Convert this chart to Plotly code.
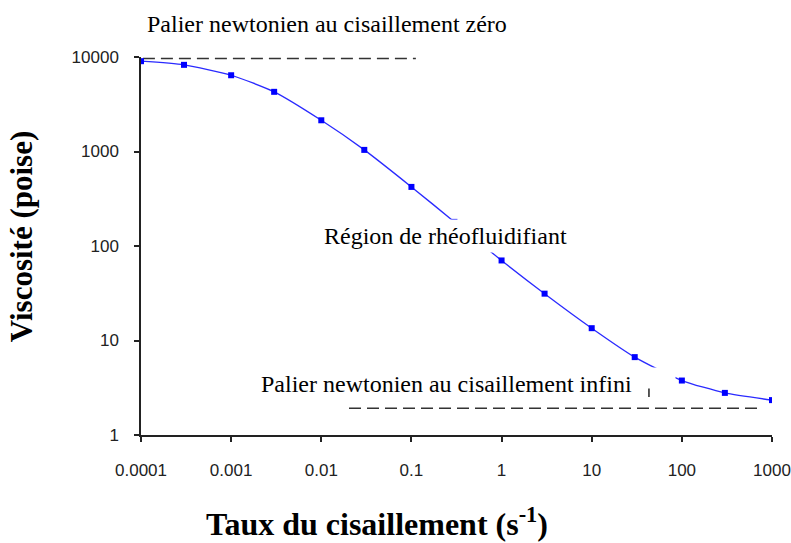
import plotly.graph_objects as go

# Data
shear_rate = [0.0001, 0.0003, 0.001, 0.003, 0.01, 0.03, 0.1, 0.3, 1, 3, 10, 30, 100, 300, 1000]
viscosity = [9030, 8260, 6410, 4280, 2140, 1040, 422, 180, 70.3, 31.3, 13.5, 6.67, 3.77, 2.79, 2.34]

zero_plateau_x = [0.000105, 0.112]
zero_plateau_y = [9650, 9650]
inf_plateau_x = [0.0203, 775]
inf_plateau_y = [1.92, 1.92]

x_tickvals = [0.0001, 0.001, 0.01, 0.1, 1, 10, 100, 1000]
x_ticktext = ["0.0001", "0.001", "0.01", "0.1", "1", "10", "100", "1000"]
y_tickvals = [1, 10, 100, 1000, 10000]
y_ticktext = ["1", "10", "100", "1000", "10000"]

SERIF = "Liberation Serif, Times New Roman, serif"
SANS = "Liberation Sans, Arial, sans-serif"

fig = go.Figure()
fig.add_trace(go.Scatter(x=zero_plateau_x, y=zero_plateau_y, mode="lines",
                         line=dict(color="#333333", width=1.5, dash="12px,6px"),
                         hoverinfo="skip", showlegend=False))
fig.add_trace(go.Scatter(x=inf_plateau_x, y=inf_plateau_y, mode="lines",
                         line=dict(color="#333333", width=1.5, dash="12px,6px"),
                         hoverinfo="skip", showlegend=False))
fig.add_trace(go.Scatter(x=shear_rate, y=viscosity, mode="lines+markers",
                         line=dict(color="#2a2aff", width=1.3, shape="spline", smoothing=0.6),
                         marker=dict(symbol="square", size=6, color="#0000ff"),
                         showlegend=False))

fig.update_layout(
    width=791, height=543,
    margin=dict(l=141, r=19, t=57, b=108),
    paper_bgcolor="white", plot_bgcolor="white",
    xaxis=dict(type="log", range=[-4, 3], tickvals=x_tickvals, ticktext=x_ticktext,
               showgrid=False, zeroline=False, showline=True, linecolor="#222222", linewidth=1.5,
               ticks="outside", ticklen=5, tickwidth=1.5, tickcolor="#222222", automargin=False,
               tickfont=dict(family=SANS, size=17, color="#222222"), ticklabelstandoff=14),
    yaxis=dict(type="log", range=[0, 4], tickvals=y_tickvals, ticktext=y_ticktext,
               showgrid=False, zeroline=False, showline=True, linecolor="#222222", linewidth=1.5,
               ticks="outside", ticklen=5, tickwidth=1.5, tickcolor="#222222", automargin=False,
               tickfont=dict(family=SANS, size=17, color="#222222"), ticklabelstandoff=12),
)

annotations = [
    dict(text="<b>Viscosité (poise)</b>", xref="paper", yref="paper", x=-0.19, y=0.526,
         textangle=-90, showarrow=False, xanchor="center", yanchor="middle",
         font=dict(family=SERIF, size=31, color="black")),
    dict(text="<b>Taux du cisaillement (s<sup>-1</sup>)</b>", xref="paper", yref="paper",
         x=0.3748, y=-0.229, showarrow=False, xanchor="center", yanchor="middle",
         font=dict(family=SERIF, size=32, color="black")),
    dict(text="Palier newtonien au cisaillement zéro", xref="paper", yref="paper",
         x=0.006, y=1.086, showarrow=False, xanchor="left", yanchor="middle",
         font=dict(family=SERIF, size=24, color="black")),
    dict(text="Région de rhéofluidifiant", xref="paper", yref="paper",
         x=0.2837, y=0.5258, showarrow=False, xanchor="left", yanchor="middle",
         bgcolor="white", borderpad=3,
         font=dict(family=SERIF, size=24, color="black")),
    dict(text="Palier newtonien au cisaillement infini", xref="paper", yref="paper",
         x=0.1838, y=0.1351, showarrow=False, xanchor="left", yanchor="middle",
         bgcolor="white", borderpad=3, width=411, align="left",
         font=dict(family=SERIF, size=24, color="black")),
    # small stray vertical stroke visible inside the text box
    dict(text="", xref="paper", yref="paper", x=0.805, y=0.1007,
         showarrow=True, arrowhead=0, arrowwidth=1.5, arrowcolor="#222222",
         ax=0, ay=-10, standoff=0, startstandoff=0),
]
fig.update_layout(annotations=annotations)

fig.write_html("out.html")
